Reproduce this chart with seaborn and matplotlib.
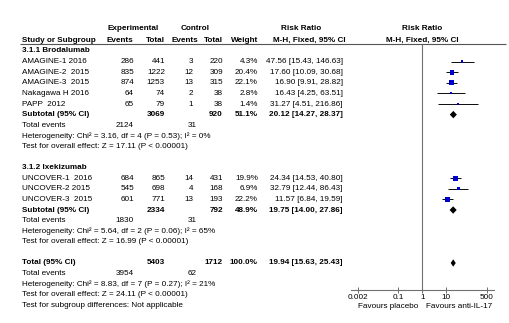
import matplotlib
matplotlib.use("Agg")
import matplotlib.pyplot as plt
import seaborn as sns
import pandas as pd
import numpy as np

# ---------------- data ----------------
study = ["AMAGINE-1 2016", "AMAGINE-2  2015", "AMAGINE-3  2015", "Nakagawa H 2016", "PAPP  2012",
         "UNCOVER-1  2016", "UNCOVER-2 2015", "UNCOVER-3  2015"]
group = ["Brodalumab"] * 5 + ["Ixekizumab"] * 3
exp_events = [286, 835, 874, 64, 65, 684, 545, 601]
exp_total = [441, 1222, 1253, 74, 79, 865, 698, 771]
ctrl_events = [3, 12, 13, 2, 1, 14, 4, 13]
ctrl_total = [220, 309, 315, 38, 38, 431, 168, 193]
weight = [4.3, 20.4, 22.1, 2.8, 1.4, 19.9, 6.9, 22.2]
rr = [47.56, 17.60, 16.90, 16.43, 31.27, 24.34, 32.79, 11.57]
rr_lo = [15.43, 10.09, 9.91, 4.25, 4.51, 14.53, 12.44, 6.84]
rr_hi = [146.63, 30.68, 28.82, 63.51, 216.86, 40.80, 86.43, 19.59]

sub_label = ["Subtotal (95% CI)", "Subtotal (95% CI)", "Total (95% CI)"]
sub_exp_total = [3069, 2334, 5403]
sub_ctrl_total = [920, 792, 1712]
sub_exp_events = [2124, 1830, 3954]
sub_ctrl_events = [31, 31, 62]
sub_weight = [51.1, 48.9, 100.0]
sub_rr = [20.12, 19.75, 19.94]
sub_lo = [14.27, 14.00, 15.63]
sub_hi = [28.37, 27.86, 25.43]
sub_het = ["Heterogeneity: Chi² = 3.16, df = 4 (P = 0.53); I² = 0%",
           "Heterogeneity: Chi² = 5.64, df = 2 (P = 0.06); I² = 65%",
           "Heterogeneity: Chi² = 8.83, df = 7 (P = 0.27); I² = 21%"]
sub_test = ["Test for overall effect: Z = 17.11 (P < 0.00001)",
            "Test for overall effect: Z = 16.99 (P < 0.00001)",
            "Test for overall effect: Z = 24.11 (P < 0.00001)"]
subgroup_titles = ["3.1.1 Brodalumab", "3.1.2 Ixekizumab"]
subgroup_diff = "Test for subgroup differences: Not applicable"

tick_vals = [0.002, 0.1, 1, 10, 500]
tick_labels = ["0.002", "0.1", "1", "10", "500"]
favours_left = "Favours placebo"
favours_right = "Favours anti-IL-17"

# ---------------- style ----------------
sns.set_theme(style="white")
plt.rcParams["font.family"] = ["Liberation Sans", "DejaVu Sans"]
FS = 5.9
TXT = "#000000"

W, H = 510, 323
fig = plt.figure(figsize=(W / 100, H / 100), dpi=100)
axt = fig.add_axes([0, 0, 1, 1])
axt.set_xlim(0, W)
axt.set_ylim(H, 0)
axt.axis("off")

# layout (pixels)
Y0, DY = 51.0, 10.6
def row_y(i):
    return Y0 + DY * i

X_NAME, X_EE, X_ET, X_CE, X_CT, X_W, X_RR = 22, 134, 165, 193, 223, 258, 343
X_CE_TOT = 197

def t(x, y, s, ha="left", bold=False):
    axt.text(x, y, s, ha=ha, va="center", fontsize=FS, color=TXT,
             fontweight="bold" if bold else "normal")

# headers
t(133, 29, "Experimental", ha="center", bold=True)
t(195, 29, "Control", ha="center", bold=True)
t(301, 29, "Risk Ratio", ha="center", bold=True)
t(422, 29, "Risk Ratio", ha="center", bold=True)
t(X_NAME, 40, "Study or Subgroup", bold=True)
t(133, 40, "Events", ha="right", bold=True)
t(165, 40, "Total", ha="right", bold=True)
t(198, 40, "Events", ha="right", bold=True)
t(223, 40, "Total", ha="right", bold=True)
t(258, 40, "Weight", ha="right", bold=True)
t(309, 40, "M-H, Fixed, 95% CI", ha="center", bold=True)
t(422, 40, "M-H, Fixed, 95% CI", ha="center", bold=True)
axt.plot([20, 506], [44, 44], color="#555555", lw=0.8, solid_capstyle="butt")

# build rows
df = pd.DataFrame(dict(study=study, group=group, ee=exp_events, et=exp_total, ce=ctrl_events,
                       ct=ctrl_total, w=weight, rr=rr, lo=rr_lo, hi=rr_hi))
study_rows = []
sub_rows = []
i = 0
for g_idx, g in enumerate(["Brodalumab", "Ixekizumab"]):
    t(X_NAME, row_y(i), subgroup_titles[g_idx], bold=True)
    i += 1
    for _, r in df[df.group == g].iterrows():
        y = row_y(i)
        study_rows.append(y)
        t(X_NAME, y, r.study)
        t(X_EE, y, f"{r.ee}", ha="right")
        t(X_ET, y, f"{r.et}", ha="right")
        t(X_CE, y, f"{r.ce}", ha="right")
        t(X_CT, y, f"{r.ct}", ha="right")
        t(X_W, y, f"{r.w:.1f}%", ha="right")
        t(X_RR, y, f"{r.rr:.2f} [{r.lo:.2f}, {r.hi:.2f}]", ha="right")
        i += 1
    sub_rows.append(i)
    i += 5
sub_rows.append(i)

for k, si in enumerate(sub_rows):
    y = row_y(si)
    t(X_NAME, y, sub_label[k], bold=True)
    t(X_ET, y, f"{sub_exp_total[k]}", ha="right", bold=True)
    t(X_CT, y, f"{sub_ctrl_total[k]}", ha="right", bold=True)
    t(X_W, y, f"{sub_weight[k]:.1f}%", ha="right", bold=True)
    t(X_RR, y, f"{sub_rr[k]:.2f} [{sub_lo[k]:.2f}, {sub_hi[k]:.2f}]", ha="right", bold=True)
    t(X_NAME, row_y(si + 1), "Total events")
    t(X_EE, row_y(si + 1), f"{sub_exp_events[k]}", ha="right")
    t(X_CE_TOT, row_y(si + 1), f"{sub_ctrl_events[k]}", ha="right")
    t(X_NAME, row_y(si + 2), sub_het[k])
    t(X_NAME, row_y(si + 3), sub_test[k])
t(X_NAME, row_y(sub_rows[-1] + 4), subgroup_diff)

# ---------------- forest panel ----------------
axf = fig.add_axes([350.9 / W, 0, 142.8 / W, 1])
axf.set_facecolor("none")
axf.set_xscale("log")
axf.set_xlim(1e-3, 1e3)
axf.set_ylim(H, 0)

AXIS_Y = 289.5
axf.vlines(1, 44, AXIS_Y, color="#707070", lw=0.8)

df["y"] = study_rows
axf.hlines(df["y"], df["lo"], df["hi"], color="#111111", lw=0.72)
sns.scatterplot(data=df, x="rr", y="y", size="w", sizes=(0.6 * min(weight), 0.6 * max(weight)),
                size_norm=(min(weight), max(weight)), marker="s", color="#0000cc",
                edgecolor="none", linewidth=0, legend=False, ax=axf, zorder=3)

for k, si in enumerate(sub_rows):
    y = row_y(si)
    xs = [sub_lo[k], sub_rr[k], sub_hi[k], sub_rr[k]]
    ys = [y, y - 3.7, y, y + 3.7]
    axf.fill(xs, ys, color="black", lw=0)

for s in ["top", "left", "right"]:
    axf.spines[s].set_visible(False)
axf.spines["bottom"].set_position(("data", AXIS_Y))
axf.spines["bottom"].set_color("#707070")
axf.spines["bottom"].set_linewidth(0.8)
axf.set_xticks(tick_vals)
axf.set_xticklabels(tick_labels)
axf.minorticks_off()
axf.tick_params(axis="x", which="major", direction="inout", length=4.5, width=0.6,
                color="#555555", labelsize=FS, labelcolor=TXT, pad=1, bottom=True)
axf.set_yticks([])
axf.set_xlabel("")
axf.set_ylabel("")

t(418, 306, favours_left, ha="right")
t(426, 306, favours_right, ha="left")

fig.savefig("out.png", dpi=100)
